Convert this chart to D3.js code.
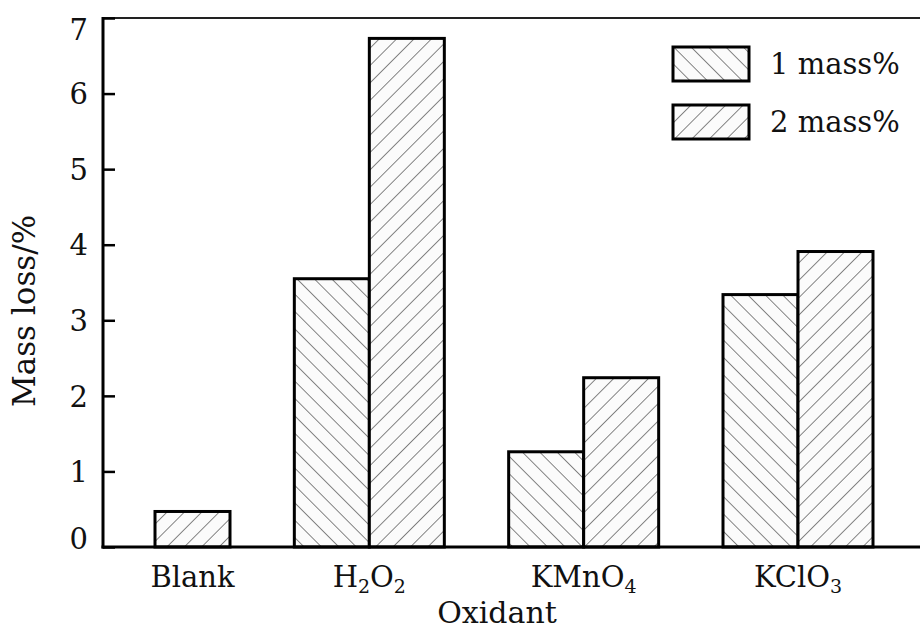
<!DOCTYPE html>
<meta charset="utf-8">
<script src="https://d3js.org/d3.v7.min.js"></script>
<style>
  body { margin: 0; background: #fff; }
  text { font-family: "DejaVu Serif", serif; fill: #111; }
</style>
<div id="my_dataviz"></div>
<script>

// data
var categories = ["Blank", "H2O2", "KMnO4", "KClO3"];
var series = ["1 mass%", "2 mass%"];
var mass1 = [null, 3.55, 1.26, 3.34];
var mass2 = [0.47, 6.73, 2.24, 3.91];
var yTicks = [0, 1, 2, 3, 4, 5, 6, 7];

// label pieces: [text, isSubscript]
var catLabels = {
  "Blank": [["Blank", false]],
  "H2O2": [["H", false], ["2", true], ["O", false], ["2", true]],
  "KMnO4": [["KMnO", false], ["4", true]],
  "KClO3": [["KClO", false], ["3", true]]
};

var width = 920, height = 633;
var plotLeft = 103, plotTop = 18, plotBottom = 547;

var svg = d3.select("#my_dataviz")
  .append("svg")
    .attr("width", width)
    .attr("height", height);

// hatch patterns
var defs = svg.append("defs");
function hatch(id, angle) {
  var p = defs.append("pattern")
      .attr("id", id)
      .attr("patternUnits", "userSpaceOnUse")
      .attr("width", 12.3)
      .attr("height", 12.3)
      .attr("patternTransform", "rotate(" + angle + ")");
  p.append("rect").attr("width", 12.3).attr("height", 12.3).attr("fill", "#fbfbfb");
  p.append("line")
      .attr("x1", 0).attr("y1", 0).attr("x2", 0).attr("y2", 12.3)
      .attr("stroke", "#444").attr("stroke-width", 1.3);
}
hatch("h1", -45);
hatch("h2", 45);
var fills = {"1 mass%": "url(#h1)", "2 mass%": "url(#h2)"};

// scales
var x = d3.scalePoint()
    .domain(categories)
    .range([155, 798]);

var xSub = d3.scaleBand()
    .domain(series)
    .range([-75, 75]);

var y = d3.scaleLinear()
    .domain([0, 7])
    .range([plotBottom, plotTop]);

// bars
var bars = [];
categories.forEach(function(c, i) {
  if (mass1[i] != null) bars.push({cat: c, s: series[0], v: mass1[i]});
  if (mass2[i] != null) bars.push({cat: c, s: series[1], v: mass2[i]});
});

svg.selectAll("rect.bar")
    .data(bars)
    .enter()
    .append("rect")
      .attr("class", "bar")
      .attr("x", function(d) { return x(d.cat) + xSub(d.s); })
      .attr("y", function(d) { return y(d.v); })
      .attr("width", xSub.bandwidth())
      .attr("height", function(d) { return y(0) - y(d.v); })
      .style("fill", function(d) { return fills[d.s]; })
      .style("stroke", "#000")
      .style("stroke-width", 3);

// frame: top line
svg.append("line")
    .attr("x1", plotLeft).attr("x2", width)
    .attr("y1", plotTop).attr("y2", plotTop)
    .style("stroke", "#222").style("stroke-width", 2);

// y axis
var yAxis = svg.append("g")
    .attr("transform", "translate(" + plotLeft + ",0)")
    .call(d3.axisRight(y).tickValues(yTicks).tickSize(12).tickFormat(d3.format("d")));
yAxis.select(".domain").remove();
yAxis.selectAll(".tick line").style("stroke", "#000").style("stroke-width", 2.5);
yAxis.selectAll(".tick text")
    .attr("x", -15)
    .attr("dy", function(d) { return d === 0 ? "0.05em" : (d === 7 ? "0.75em" : "0.35em"); })
    .style("text-anchor", "end")
    .style("font-family", "DejaVu Serif")
    .style("font-size", "29px");

svg.append("line")
    .attr("x1", plotLeft).attr("x2", plotLeft)
    .attr("y1", plotTop - 1).attr("y2", plotBottom + 1.5)
    .style("stroke", "#000").style("stroke-width", 3);

// x axis line
svg.append("line")
    .attr("x1", plotLeft - 1.5).attr("x2", width)
    .attr("y1", plotBottom).attr("y2", plotBottom)
    .style("stroke", "#000").style("stroke-width", 3);

// category labels, centred on the bars present
var labelPos = categories.map(function(c, i) {
  var cs = [];
  if (mass1[i] != null) cs.push(x(c) + xSub(series[0]) + xSub.bandwidth() / 2);
  if (mass2[i] != null) cs.push(x(c) + xSub(series[1]) + xSub.bandwidth() / 2);
  return d3.mean(cs);
});

var xl = svg.selectAll("text.xlab")
    .data(categories)
    .enter()
    .append("text")
      .attr("class", "xlab")
      .attr("x", function(d, i) { return labelPos[i]; })
      .attr("y", 587)
      .style("text-anchor", "middle")
      .style("font-size", "29px");
xl.each(function(d) {
  var t = d3.select(this);
  catLabels[d].forEach(function(p, k) {
    var prevSub = k > 0 && catLabels[d][k - 1][1];
    t.append("tspan")
      .attr("dy", p[1] ? 6 : (prevSub ? -6 : 0))
      .style("font-size", p[1] ? "19px" : "29px")
      .text(p[0]);
  });
});

// axis titles
svg.append("text")
    .attr("x", 497)
    .attr("y", 623)
    .style("text-anchor", "middle")
    .style("font-size", "30px")
    .text("Oxidant");

svg.append("text")
    .attr("transform", "rotate(-90)")
    .attr("x", -311)
    .attr("y", 35)
    .style("text-anchor", "middle")
    .style("font-size", "31px")
    .text("Mass loss/%");

// legend
var legend = svg.selectAll("g.leg")
    .data(series)
    .enter()
    .append("g")
      .attr("class", "leg")
      .attr("transform", function(d, i) { return "translate(673," + (47 + i * 58) + ")"; });
legend.append("rect")
    .attr("width", 76)
    .attr("height", 34)
    .style("fill", function(d) { return fills[d]; })
    .style("stroke", "#000")
    .style("stroke-width", 3);
legend.append("text")
    .attr("x", 97)
    .attr("y", 17)
    .attr("dy", "0.35em")
    .style("font-size", "29px")
    .text(function(d) { return d; });

</script>
